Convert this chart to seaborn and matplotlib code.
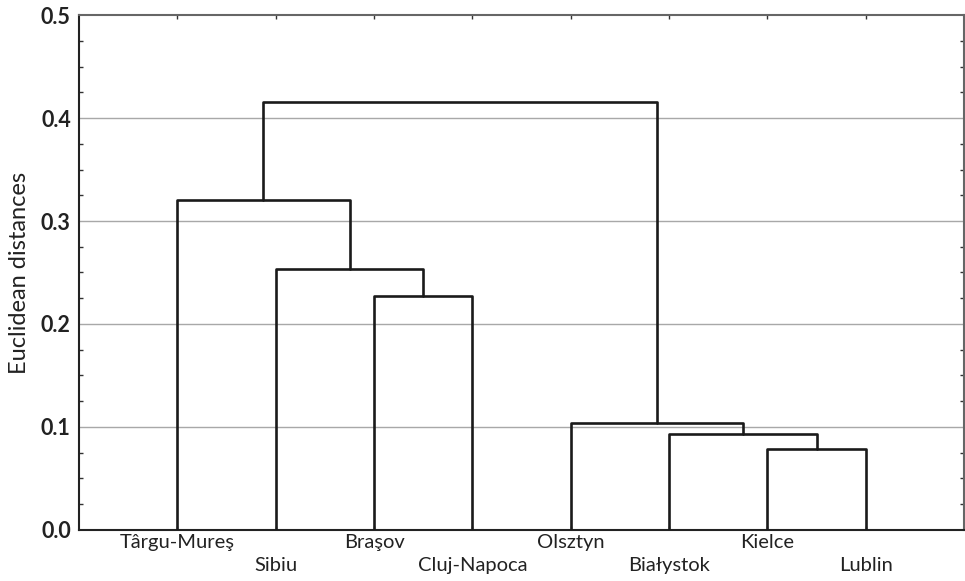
import numpy as np
import pandas as pd
import seaborn as sns
import matplotlib.pyplot as plt
from matplotlib.ticker import MultipleLocator

# leaves in dendrogram order
leaves = ["Târgu-Mureş", "Sibiu", "Braşov", "Cluj-Napoca",
          "Olsztyn", "Białystok", "Kielce", "Lublin"]
# linkage: cluster ids 0-7 leaves, 8+ merged clusters
link_left = [6, 5, 4, 2, 1, 0, 13]
link_right = [7, 8, 9, 3, 11, 12, 10]
link_height = [0.079, 0.093, 0.104, 0.227, 0.253, 0.320, 0.416]

sns.set_theme(style="ticks")
plt.rcParams['font.family'] = ['Lato', 'DejaVu Sans']

# build U-shaped segments from the linkage
pos = {i: i + 1 for i in range(len(leaves))}
hgt = {i: 0.0 for i in range(len(leaves))}
rows = []
for k, (a, b, h) in enumerate(zip(link_left, link_right, link_height)):
    xa, xb = pos[a], pos[b]
    for x, y in [(xa, hgt[a]), (xa, h), (xb, h), (xb, hgt[b])]:
        rows.append({'seg': k, 'x': x, 'y': y})
    new = len(leaves) + k
    pos[new] = (xa + xb) / 2
    hgt[new] = h
segs = pd.DataFrame(rows)

fig = plt.figure(figsize=(9.65, 5.81), dpi=100)
ax = fig.add_axes([0.082, 0.088, 0.917, 0.886])

for y in [0.1, 0.2, 0.3, 0.4]:
    ax.axhline(y, color='#a8a8a8', lw=1, zorder=0)

sns.lineplot(data=segs, x='x', y='y', units='seg', estimator=None, sort=False,
             color='#1a1a1a', lw=1.9, ax=ax, zorder=3)

ax.set_xlim(0, 9)
ax.set_ylim(0, 0.5)
ax.set_yticks([0.0, 0.1, 0.2, 0.3, 0.4, 0.5])
ax.set_yticklabels(['0.0', '0.1', '0.2', '0.3', '0.4', '0.5'],
                   fontsize=15.5, fontweight='bold', color='#222222')
ax.yaxis.set_minor_locator(MultipleLocator(0.025))
ax.set_xticks(range(1, len(leaves) + 1))
ax.set_xticklabels(leaves, fontsize=14.5, color='#222222')
ax.tick_params(axis='both', which='both', direction='in', top=True, right=True,
               length=3, width=1, color='#333333')
ax.tick_params(axis='y', which='major', length=0, pad=6)
ax.tick_params(axis='x', which='major', pad=3)
for i, t in enumerate(ax.xaxis.get_major_ticks()):
    if i % 2 == 1:
        t.set_pad(19.5)

ax.set_xlabel('')
ax.set_ylabel('Euclidean distances', fontsize=17, color='#222222', labelpad=8)

for s in ['left', 'bottom']:
    ax.spines[s].set_color('#222222')
    ax.spines[s].set_linewidth(1.5)
for s in ['top', 'right']:
    ax.spines[s].set_color('#666666')
    ax.spines[s].set_linewidth(1.5)

fig.savefig('out.png', dpi=100)
